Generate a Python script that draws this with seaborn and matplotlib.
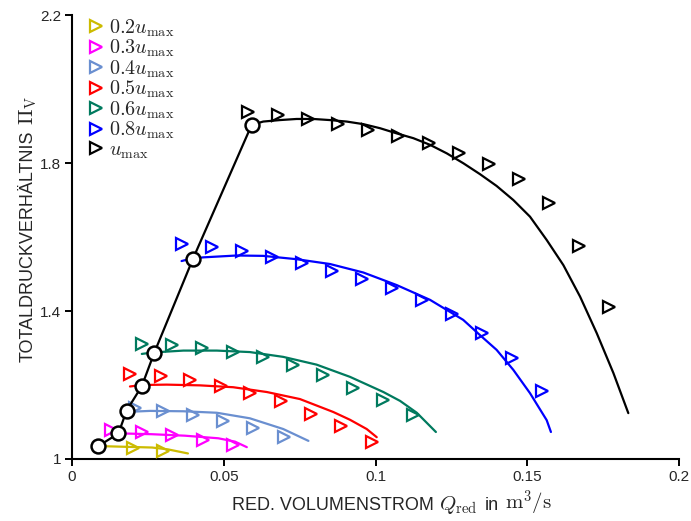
import matplotlib
matplotlib.use("Agg")
import matplotlib.pyplot as plt
from matplotlib.transforms import IdentityTransform
import seaborn as sns

sns.set_style("ticks")
plt.rcParams["font.family"] = ["Liberation Sans", "DejaVu Sans"]
plt.rcParams["mathtext.fontset"] = "cm"

# ---- data ----
labels = [r"$0.2u_\mathrm{max}$", r"$0.3u_\mathrm{max}$", r"$0.4u_\mathrm{max}$",
          r"$0.5u_\mathrm{max}$", r"$0.6u_\mathrm{max}$", r"$0.8u_\mathrm{max}$",
          r"$u_\mathrm{max}$"]
colors = ["#CCBB00", "#FF00FF", "#6A8FD0", "#FF0000", "#007A5E", "#0000FF", "#000000"]

# measured points (triangles)
meas_q_02 = [0.0202, 0.0301]
meas_p_02 = [1.029, 1.022]
meas_q_03 = [0.0129, 0.0230, 0.0329, 0.0431, 0.0531]
meas_p_03 = [1.078, 1.072, 1.064, 1.051, 1.037]
meas_q_04 = [0.0206, 0.0301, 0.0399, 0.0498, 0.0597, 0.0699]
meas_p_04 = [1.138, 1.131, 1.118, 1.103, 1.083, 1.060]
meas_q_05 = [0.0191, 0.0292, 0.0390, 0.0491, 0.0588, 0.0689, 0.0787, 0.0886, 0.0988]
meas_p_05 = [1.230, 1.224, 1.214, 1.197, 1.178, 1.156, 1.122, 1.088, 1.047]
meas_q_06 = [0.0230, 0.0329, 0.0427, 0.0529, 0.0629, 0.0728, 0.0827, 0.0926, 0.1025, 0.1124]
meas_p_06 = [1.311, 1.308, 1.299, 1.289, 1.276, 1.253, 1.228, 1.191, 1.159, 1.119]
meas_q_08 = [0.0361, 0.0460, 0.0559, 0.0658, 0.0757, 0.0856, 0.0955, 0.1053,
             0.1152, 0.1251, 0.1350, 0.1449, 0.1548]
meas_p_08 = [1.581, 1.574, 1.563, 1.547, 1.529, 1.509, 1.486, 1.461,
             1.430, 1.391, 1.340, 1.272, 1.185]
meas_q_10 = [0.0580, 0.0679, 0.0778, 0.0876, 0.0975, 0.1074, 0.1176, 0.1275,
             0.1374, 0.1473, 0.1572, 0.1671, 0.1769]
meas_p_10 = [1.938, 1.930, 1.919, 1.905, 1.889, 1.873, 1.854, 1.827,
             1.797, 1.757, 1.692, 1.576, 1.411]

# computed characteristic curves
calc_q_02 = [0.0086, 0.0264, 0.0316, 0.0382]
calc_p_02 = [1.035, 1.031, 1.026, 1.015]
calc_q_03 = [0.0169, 0.0263, 0.0372, 0.0482, 0.0537, 0.0576]
calc_p_03 = [1.069, 1.067, 1.063, 1.056, 1.047, 1.032]
calc_q_04 = [0.0200, 0.0257, 0.0367, 0.0477, 0.0586, 0.0696, 0.0779]
calc_p_04 = [1.128, 1.130, 1.129, 1.125, 1.110, 1.081, 1.049]
calc_q_05 = [0.0191, 0.0230, 0.0312, 0.0422, 0.0531, 0.0642, 0.0751, 0.0861,
             0.0916, 0.0971, 0.1004]
calc_p_05 = [1.196, 1.200, 1.201, 1.199, 1.194, 1.181, 1.162, 1.127,
             1.106, 1.081, 1.059]
calc_q_06 = [0.0230, 0.0268, 0.0367, 0.0477, 0.0586, 0.0696, 0.0806, 0.0916,
             0.1026, 0.1081, 0.1136, 0.1199]
calc_p_06 = [1.284, 1.288, 1.293, 1.293, 1.289, 1.276, 1.255, 1.222,
             1.181, 1.157, 1.125, 1.073]
calc_q_08 = [0.0361, 0.0394, 0.0433, 0.0543, 0.0630, 0.0740, 0.0850, 0.0960,
             0.1070, 0.1180, 0.1289, 0.1344, 0.1399, 0.1454, 0.1509, 0.1564, 0.1578]
calc_p_08 = [1.535, 1.542, 1.545, 1.550, 1.549, 1.540, 1.527, 1.504,
             1.470, 1.430, 1.376, 1.335, 1.295, 1.241, 1.178, 1.105, 1.073]
calc_q_10 = [0.0592, 0.0630, 0.0685, 0.0740, 0.0795, 0.0850, 0.0905, 0.0960,
             0.1015, 0.1070, 0.1125, 0.1180, 0.1235, 0.1290, 0.1344, 0.1399,
             0.1454, 0.1509, 0.1564, 0.1619, 0.1674, 0.1729, 0.1784, 0.1833]
calc_p_10 = [1.903, 1.912, 1.916, 1.919, 1.919, 1.916, 1.912, 1.905,
             1.894, 1.880, 1.867, 1.849, 1.826, 1.799, 1.770, 1.738,
             1.700, 1.655, 1.592, 1.524, 1.439, 1.340, 1.232, 1.124]

# operating line (circles)
op_q = [0.0087, 0.0153, 0.0180, 0.0230, 0.0271, 0.0398, 0.0592]
op_p = [1.035, 1.069, 1.131, 1.197, 1.287, 1.540, 1.903]

meas_q = [meas_q_02, meas_q_03, meas_q_04, meas_q_05, meas_q_06, meas_q_08, meas_q_10]
meas_p = [meas_p_02, meas_p_03, meas_p_04, meas_p_05, meas_p_06, meas_p_08, meas_p_10]
calc_q = [calc_q_02, calc_q_03, calc_q_04, calc_q_05, calc_q_06, calc_q_08, calc_q_10]
calc_p = [calc_p_02, calc_p_03, calc_p_04, calc_p_05, calc_p_06, calc_p_08, calc_p_10]

xticks = [0, 0.05, 0.1, 0.15, 0.2]
xticklabels = ["0", "0.05", "0.1", "0.15", "0.2"]
yticks = [1, 1.4, 1.8, 2.2]
yticklabels = ["1", "1.4", "1.8", "2.2"]

xlabel_parts = ["RED. VOLUMENSTROM", r"$Q_\mathrm{red}$", "in", r"$\mathrm{m}^3/\mathrm{s}$"]
ylabel_parts = ["TOTALDRUCKVERHÄLTNIS", r"$\Pi_\mathrm{V}$"]

W, H = 691, 521
fig = plt.figure(figsize=(W / 100, H / 100), dpi=100)
ax = fig.add_axes([72 / W, 1 - 459 / H, 607 / W, 444 / H])

handles = []
for q, p, c in zip(calc_q, calc_p, colors):
    sns.lineplot(x=q, y=p, color=c, lw=1.6, sort=False, estimator=None, ax=ax,
                 legend=False, zorder=2)
for q, p, c, lab in zip(meas_q, meas_p, colors, labels):
    sns.lineplot(x=q, y=p, color=c, linestyle="", marker=">", markersize=8,
                 markerfacecolor="none", markeredgecolor=c, markeredgewidth=1.6,
                 sort=False, estimator=None, ax=ax, legend=False, zorder=3)
    handles.append(ax.lines[-1])

sns.lineplot(x=op_q, y=op_p, color="black", lw=1.6, sort=False, estimator=None,
             marker="o", markersize=10, markerfacecolor="white",
             markeredgecolor="black", markeredgewidth=1.8, ax=ax, legend=False,
             zorder=5)

ax.set_xlim(0, 0.2)
ax.set_ylim(1, 2.2)
ax.set_xticks(xticks)
ax.set_xticklabels(xticklabels)
ax.set_yticks(yticks)
ax.set_yticklabels(yticklabels)
ax.tick_params(labelsize=11, width=1.4, length=5, color="black", pad=3)
for s in ["top", "right"]:
    ax.spines[s].set_visible(False)
for s in ["left", "bottom"]:
    ax.spines[s].set_linewidth(1.5)
    ax.spines[s].set_color("black")
ax.set_xlabel("")
ax.set_ylabel("")

ax.legend(handles, labels, loc="upper left", bbox_to_anchor=(0.026, 0.995),
          frameon=False, fontsize=14.5, handlelength=0.8, handletextpad=0.25,
          labelspacing=-0.045, borderaxespad=0, borderpad=0)

# axis labels composed of sans text and Computer Modern math pieces
fig.canvas.draw()
renderer = fig.canvas.get_renderer()
ident = IdentityTransform()

def size_for(s):
    return 15 if s.startswith("$") else 13

# x label
gaps_x = [5, 8, 6]
xt = [fig.text(0, 0, s, fontsize=size_for(s), ha="left", va="baseline",
               transform=ident) for s in xlabel_parts]
widths = [t.get_window_extent(renderer).width for t in xt]
total = sum(widths) + sum(gaps_x)
x0 = 392 - total / 2
base_y = H - 510
for i, t in enumerate(xt):
    t.set_position((x0, base_y))
    x0 += widths[i] + (gaps_x[i] if i < len(gaps_x) else 0)

# y label (rotated)
gaps_y = [6]
yt = [fig.text(0, 0, s, fontsize=size_for(s), ha="left", va="baseline",
               rotation=90, rotation_mode="anchor", transform=ident)
      for s in ylabel_parts]
lens = [t.get_window_extent(renderer).height for t in yt]
total = sum(lens) + sum(gaps_y)
y0 = (H - 229) - total / 2
base_x = 33
for i, t in enumerate(yt):
    t.set_position((base_x, y0))
    y0 += lens[i] + (gaps_y[i] if i < len(gaps_y) else 0)

fig.savefig("out.png", dpi=100)
